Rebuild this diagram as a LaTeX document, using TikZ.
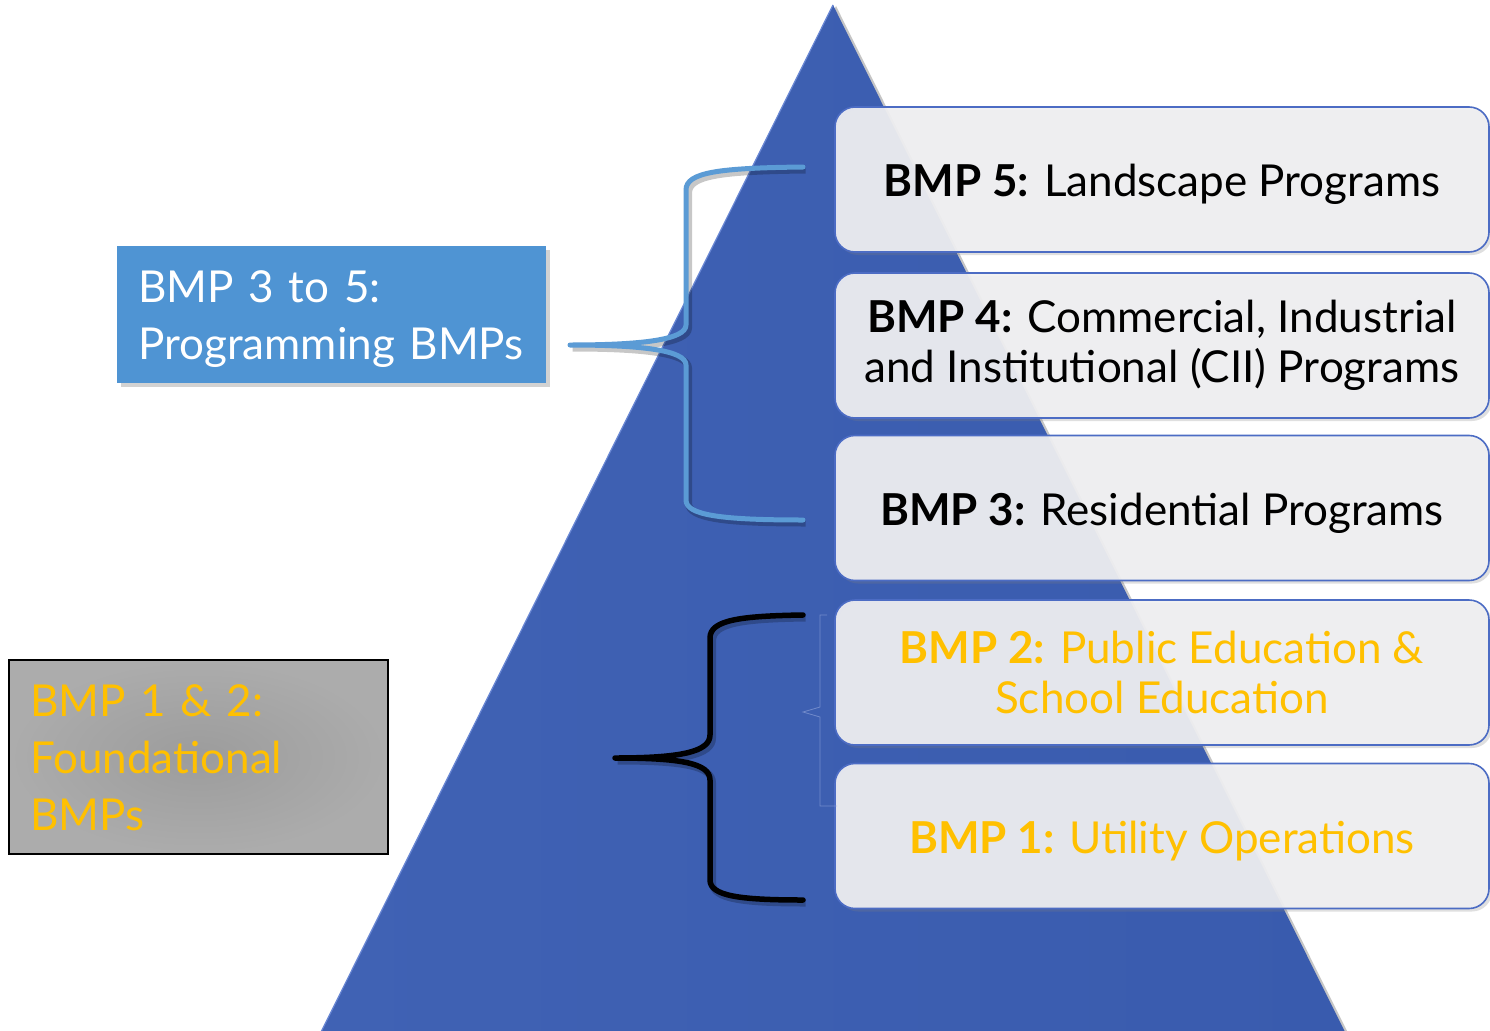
\documentclass[tikz,border=0pt]{standalone}
\usepackage{fontspec}
\setmainfont{Lato}
\newfontfamily\gs{Lato}
\usetikzlibrary{shadows}
\definecolor{pyrblue}{RGB}{57,91,174}
\definecolor{pyrlight}{RGB}{64,98,180}
\definecolor{pyredge}{RGB}{105,135,212}
\definecolor{boxfill}{RGB}{240,240,242}
\definecolor{boxline}{RGB}{76,108,196}
\definecolor{progblue}{RGB}{79,148,211}
\definecolor{bracblue}{RGB}{91,155,213}
\definecolor{gold}{RGB}{255,192,0}
\definecolor{graybox}{RGB}{172,172,172}
\definecolor{graydark}{RGB}{156,156,156}
\tikzset{
  bmpbox/.style={rectangle, rounded corners=20pt, minimum width=654pt,
    minimum height=145pt, fill=boxfill, fill opacity=0.93, text opacity=1,
    draw=boxline, line width=1.6pt, align=center,
    font=\gs\fontsize{44}{50}\selectfont,
    drop shadow={opacity=0.25, shadow xshift=3pt, shadow yshift=-3pt}},
  oneline/.style={text height=42pt, text depth=8pt},
  brace/.style={line width=5pt, line cap=round, line join=round,
    preaction={draw=black, opacity=0.22, line width=7pt,
      transform canvas={xshift=2.5pt, yshift=-3pt}}},
  lbl/.style={font=\gs\fontsize{44}{57}\selectfont, align=left, text width=400pt, inner sep=0pt}
}
\begin{document}
\begin{tikzpicture}[x=1pt,y=-1pt]
\useasboundingbox (0,0) rectangle (1490,1030);
\fill[white] (0,0) rectangle (1490,1030);

% pyramid
\path[drop shadow={opacity=0.45, shadow xshift=3pt, shadow yshift=-1pt},
  left color=pyrlight, right color=pyrblue]
  (833,5) coordinate (apex) -- (1345,1032) coordinate (br) -- (321,1032) coordinate (bl) -- cycle;
\draw[pyredge, line width=1.2pt] (bl) -- (apex);

% level boxes
\node[bmpbox, oneline] (b5) at (1162,179.5) {\textbf{BMP 5:} Landscape Programs};
\node[bmpbox] (b4) at (1162,345.5) {\textbf{BMP 4:} Commercial, Industrial\\and Institutional (CII) Programs};
\node[bmpbox, oneline] (b3) at (1162,508) {\textbf{BMP 3:} Residential Programs};
\node[bmpbox, text=gold] (b2) at (1162,672.5) {\textbf{BMP 2:} Public Education \&\\School Education};
\node[bmpbox, oneline, text=gold] (b1) at (1162,836) {\textbf{BMP 1:} Utility Operations};

% faint bracket by the lower boxes
\draw[boxline!60!white, line width=0.8pt, opacity=0.6]
  (827,615) -- (820,615) -- (820,707) -- (803,712) -- (820,717) -- (820,806) -- (837,806);

% programming group
\node[fill=progblue, minimum width=429pt, minimum height=137pt, inner sep=0pt,
  drop shadow={opacity=0.35, shadow xshift=4pt, shadow yshift=-4pt}] (prog) at (331.5,314.5) {};
\node[lbl, text=white, anchor=north west] (progtxt) at (138,270) {BMP 3 to 5:\\Programming BMPs};

\coordinate (bt5) at (803,167);
\coordinate (bt3) at (803,520);
\coordinate (btip) at (570,345);
\draw[brace, bracblue]
  (bt5) .. controls (720,168) and (686,172) .. (686,190) -- (686,325)
  .. controls (686,340) and (640,345) .. (btip)
  .. controls (640,345) and (686,350) .. (686,365) -- (686,500)
  .. controls (686,515) and (720,520) .. (bt3);

% foundational group
\node[draw=black, line width=2pt, inner sep=0pt, minimum width=379pt, minimum height=194pt,
  inner color=graydark, outer color=graybox] (found) at (198.5,757) {};
\node[lbl, text=gold, anchor=north west] (foundtxt) at (30,684) {BMP 1 \& 2:\\Foundational\\BMPs};

\coordinate (bt2) at (803,615);
\coordinate (bt1) at (803,900);
\coordinate (ktip) at (615,758);
\draw[brace, black, line width=5.5pt]
  (bt2) .. controls (740,616) and (710,620) .. (710,638) -- (710,735)
  .. controls (710,752) and (680,758) .. (ktip)
  .. controls (680,758) and (710,763) .. (710,780) -- (710,880)
  .. controls (710,896) and (740,900) .. (bt1);
\end{tikzpicture}
\end{document}
